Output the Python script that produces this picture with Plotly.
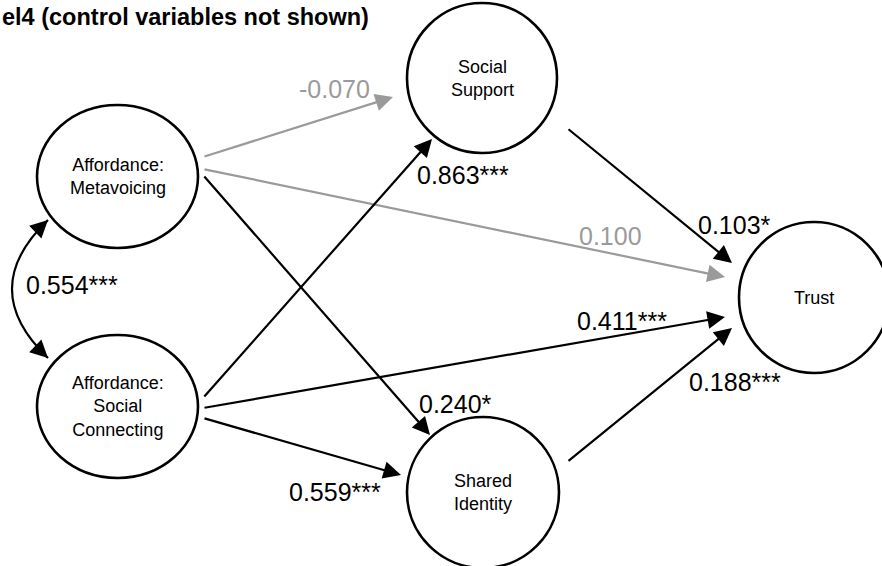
import plotly.graph_objects as go

# ---- model content -------------------------------------------------------
title_text = "el4 (control variables not shown)"

node_names = ["Metavoicing", "SocialConnecting", "SocialSupport", "SharedIdentity", "Trust"]
node_labels = [
    "Affordance:<br>Metavoicing",
    "Affordance:<br>Social<br>Connecting",
    "Social<br>Support",
    "Shared<br>Identity",
    "Trust",
]

path_source = ["Metavoicing", "Metavoicing", "Metavoicing",
               "SocialConnecting", "SocialConnecting", "SocialConnecting",
               "SocialSupport", "SharedIdentity"]
path_target = ["SocialSupport", "Trust", "SharedIdentity",
               "SocialSupport", "Trust", "SharedIdentity",
               "Trust", "Trust"]
path_coef = [-0.070, 0.100, 0.240, 0.863, 0.411, 0.559, 0.103, 0.188]
path_stars = ["", "", "*", "***", "***", "***", "*", "***"]

cov_coef = 0.554
cov_stars = "***"

# ---- diagram layout (pixel canvas, y grows downward) ----------------------
W, H = 882, 566
node_box = {  # x0, x1, y0, y1 of each ellipse
    "Metavoicing": (37, 198, 105, 248),
    "SocialConnecting": (37, 198, 335, 478),
    "SocialSupport": (407, 557, 3, 153),
    "SharedIdentity": (407, 559, 417, 568),
    "Trust": (739, 889, 222, 373),
}
# tail point, head point, label centre for each path
path_geom = [
    ((203, 157), (393, 97), (334, 89)),
    ((203, 169), (725, 277), (610, 236)),
    ((203, 175), (430, 435), (455, 404)),
    ((203, 398), (432, 139), (463, 175)),
    ((203, 408), (725, 317), (622, 321)),
    ((203, 418), (401, 475), (335, 492)),
    ((567, 128), (732, 263), (734, 225)),
    ((567, 462), (732, 328), (735, 382)),
]
cov_ends = ((48, 220), (48, 358))
cov_ctrl = (-24, 289)
cov_label = (72, 285)

BLACK = "#000000"
GRAY = "#9a9a9a"
FONT = "Liberation Sans, Arial, Helvetica, sans-serif"
LINE_W = 2.2
HEAD_SIZE = 1.6

fig = go.Figure()
shapes = []
annotations = []

# latent-variable ellipses with their labels
for name, label in zip(node_names, node_labels):
    x0, x1, y0, y1 = node_box[name]
    shapes.append(dict(type="circle", xref="x", yref="y", x0=x0, x1=x1, y0=y0, y1=y1,
                       line=dict(color=BLACK, width=2.6), fillcolor="rgba(0,0,0,0)"))
    annotations.append(dict(xref="x", yref="y", x=(x0 + x1) / 2, y=(y0 + y1) / 2,
                            text=label, showarrow=False,
                            font=dict(family=FONT, size=18, color=BLACK),
                            xanchor="center", yanchor="middle"))

# structural paths
for src, tgt, c, s, geom in zip(path_source, path_target, path_coef, path_stars, path_geom):
    (tx, ty), (hx, hy), (lx, ly) = geom
    col = GRAY if s == "" else BLACK
    annotations.append(dict(xref="x", yref="y", axref="x", ayref="y",
                            x=hx, y=hy, ax=tx, ay=ty, text="", showarrow=True,
                            arrowhead=2, arrowsize=HEAD_SIZE, arrowwidth=LINE_W,
                            arrowcolor=col, standoff=0, startstandoff=0))
    annotations.append(dict(xref="x", yref="y", x=lx, y=ly,
                            text=f"{c:.3f}{s}", showarrow=False,
                            font=dict(family=FONT, size=25, color=col),
                            xanchor="center", yanchor="middle"))

# covariance between the two affordances (curved, double-headed)
(p0x, p0y), (p1x, p1y) = cov_ends
cx, cy = cov_ctrl
shapes.append(dict(type="path", xref="x", yref="y",
                   path=f"M {p0x},{p0y} Q {cx},{cy} {p1x},{p1y}",
                   line=dict(color=BLACK, width=LINE_W)))
k = 0.15
for (ex, ey) in cov_ends:
    annotations.append(dict(xref="x", yref="y", axref="x", ayref="y",
                            x=ex, y=ey, ax=ex + (cx - ex) * k, ay=ey + (cy - ey) * k,
                            text="", showarrow=True, arrowhead=2, arrowsize=HEAD_SIZE,
                            arrowwidth=LINE_W, arrowcolor=BLACK, standoff=0))
annotations.append(dict(xref="x", yref="y", x=cov_label[0], y=cov_label[1],
                        text=f"{cov_coef:.3f}{cov_stars}", showarrow=False,
                        font=dict(family=FONT, size=25, color=BLACK),
                        xanchor="center", yanchor="middle"))

# heading
annotations.append(dict(xref="x", yref="y", x=0, y=17, text=f"<b>{title_text}</b>",
                        showarrow=False, xanchor="left", yanchor="middle",
                        font=dict(family=FONT, size=23.5, color=BLACK)))

fig.update_layout(
    width=W, height=H,
    margin=dict(l=0, r=0, t=0, b=0),
    paper_bgcolor="white", plot_bgcolor="white",
    xaxis=dict(range=[0, W], visible=False, fixedrange=True),
    yaxis=dict(range=[H, 0], visible=False, fixedrange=True),
    shapes=shapes, annotations=annotations, showlegend=False,
)

fig.write_html("out.html", config={"displayModeBar": False})
